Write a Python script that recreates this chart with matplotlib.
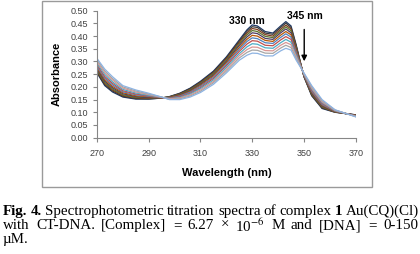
#!/usr/bin/env python3
"""UV-vis titration spectra of complex 1 with CT-DNA"""
import matplotlib
matplotlib.use('Agg')
import matplotlib.pyplot as plt
from matplotlib.patches import Rectangle

# wavelength grid (nm)
wavelength = [270, 273, 276, 280, 285, 290, 295, 298, 302, 306, 310, 315, 320, 325,
              328, 330, 332, 335, 338, 341, 343, 345, 347, 350, 353, 357, 362, 370]

# absorbance for each DNA addition (first = free complex)
spec_01 = [0.255, 0.205, 0.180, 0.160, 0.152, 0.152, 0.156, 0.162, 0.175, 0.195, 0.222, 0.262, 0.318, 0.385,
           0.425, 0.444, 0.440, 0.418, 0.412, 0.440, 0.457, 0.440, 0.365, 0.240, 0.165, 0.115, 0.100, 0.090]
spec_02 = [0.258, 0.209, 0.184, 0.163, 0.154, 0.153, 0.156, 0.161, 0.174, 0.193, 0.219, 0.259, 0.314, 0.380,
           0.419, 0.437, 0.434, 0.412, 0.407, 0.434, 0.451, 0.434, 0.361, 0.241, 0.167, 0.117, 0.101, 0.090]
spec_03 = [0.262, 0.214, 0.188, 0.166, 0.157, 0.155, 0.157, 0.160, 0.172, 0.190, 0.216, 0.255, 0.310, 0.375,
           0.412, 0.430, 0.426, 0.406, 0.400, 0.427, 0.443, 0.428, 0.357, 0.242, 0.170, 0.120, 0.101, 0.089]
spec_04 = [0.266, 0.218, 0.192, 0.169, 0.159, 0.157, 0.157, 0.160, 0.170, 0.188, 0.213, 0.252, 0.305, 0.369,
           0.405, 0.422, 0.418, 0.399, 0.394, 0.420, 0.436, 0.421, 0.353, 0.243, 0.173, 0.122, 0.102, 0.088]
spec_05 = [0.271, 0.223, 0.197, 0.173, 0.162, 0.158, 0.157, 0.159, 0.168, 0.185, 0.210, 0.247, 0.300, 0.363,
           0.397, 0.413, 0.410, 0.391, 0.387, 0.413, 0.428, 0.413, 0.348, 0.244, 0.176, 0.125, 0.103, 0.088]
spec_06 = [0.276, 0.229, 0.202, 0.177, 0.165, 0.161, 0.157, 0.158, 0.166, 0.182, 0.206, 0.243, 0.295, 0.355,
           0.388, 0.403, 0.400, 0.383, 0.379, 0.404, 0.418, 0.405, 0.343, 0.246, 0.180, 0.128, 0.104, 0.087]
spec_07 = [0.281, 0.235, 0.208, 0.181, 0.169, 0.163, 0.158, 0.156, 0.164, 0.179, 0.202, 0.238, 0.289, 0.348,
           0.379, 0.393, 0.390, 0.374, 0.371, 0.395, 0.409, 0.396, 0.337, 0.247, 0.183, 0.131, 0.105, 0.086]
spec_08 = [0.287, 0.241, 0.214, 0.185, 0.172, 0.165, 0.158, 0.155, 0.161, 0.175, 0.197, 0.233, 0.283, 0.340,
           0.369, 0.382, 0.380, 0.364, 0.362, 0.385, 0.398, 0.387, 0.331, 0.248, 0.187, 0.135, 0.106, 0.086]
spec_09 = [0.293, 0.249, 0.220, 0.190, 0.176, 0.167, 0.159, 0.154, 0.158, 0.172, 0.193, 0.227, 0.276, 0.331,
           0.358, 0.370, 0.368, 0.354, 0.352, 0.374, 0.387, 0.376, 0.325, 0.250, 0.192, 0.139, 0.107, 0.085]
spec_10 = [0.299, 0.256, 0.227, 0.195, 0.180, 0.170, 0.159, 0.153, 0.156, 0.168, 0.188, 0.221, 0.269, 0.323,
           0.347, 0.357, 0.356, 0.343, 0.342, 0.364, 0.375, 0.366, 0.318, 0.252, 0.196, 0.142, 0.108, 0.084]
spec_11 = [0.306, 0.263, 0.233, 0.200, 0.184, 0.172, 0.160, 0.151, 0.153, 0.164, 0.183, 0.216, 0.262, 0.314,
           0.336, 0.345, 0.344, 0.333, 0.332, 0.353, 0.364, 0.355, 0.312, 0.253, 0.201, 0.146, 0.109, 0.083]
spec_12 = [0.312, 0.270, 0.240, 0.205, 0.188, 0.175, 0.160, 0.150, 0.150, 0.160, 0.178, 0.210, 0.255, 0.305,
           0.325, 0.333, 0.332, 0.322, 0.322, 0.342, 0.352, 0.345, 0.305, 0.255, 0.205, 0.150, 0.110, 0.082]

spectra = [spec_01, spec_02, spec_03, spec_04, spec_05, spec_06,
           spec_07, spec_08, spec_09, spec_10, spec_11, spec_12]
colors = ['#1F3864', '#3B3B3B', '#7F3F1F', '#5F7530', '#4D3B62', '#B65708',
          '#4F81BD', '#C0504D', '#4BACC6', '#D99694', '#A6A6A6', '#8DB3E2']

xticks = [270, 290, 310, 330, 350, 370]
yticks = [0.00, 0.05, 0.10, 0.15, 0.20, 0.25, 0.30, 0.35, 0.40, 0.45, 0.50]

plt.rcParams['font.family'] = ['Liberation Sans', 'DejaVu Sans']
plt.rcParams['mathtext.fontset'] = 'stix'

W, H = 420, 254
fig = plt.figure(figsize=(W / 100, H / 100), dpi=100)
fig.patch.set_facecolor('white')

# frame around the chart
fig.patches.append(Rectangle((42 / W, 1 - 187 / H), 330 / W, 186 / H, transform=fig.transFigure,
                             fill=False, edgecolor='#9a9a9a', lw=1.0))

ax = fig.add_axes([97 / W, 1 - 137.7 / H, 258.7 / W, 127 / H])
for spec, c in zip(spectra, colors):
    ax.plot(wavelength, spec, color=c, lw=0.9)

ax.set_xlim(270, 370)
ax.set_ylim(0, 0.5)
ax.set_xticks(xticks)
ax.set_yticks(yticks)
ax.set_yticklabels([f'{v:.2f}' for v in yticks])
for s in ['top', 'right']:
    ax.spines[s].set_visible(False)
for s in ['left', 'bottom']:
    ax.spines[s].set_color('#868686')
    ax.spines[s].set_linewidth(0.8)
ax.tick_params(axis='both', direction='out', length=3, width=0.8, color='#868686',
               labelsize=6.5, labelcolor='#404040')
ax.tick_params(axis='x', pad=5)
ax.set_xlabel('Wavelength (nm)', fontsize=8, fontweight='bold', labelpad=7)
ax.set_ylabel('Absorbance', fontsize=8, fontweight='bold', labelpad=6)

ax.text(335, 0.458, '330 nm', fontsize=7.5, fontweight='bold', ha='right', va='center')
ax.text(350.5, 0.478, '345 nm', fontsize=7.5, fontweight='bold', ha='center', va='center')
ax.annotate('', xy=(350.1, 0.29), xytext=(350.1, 0.437),
            arrowprops=dict(arrowstyle='-|>', color='black', lw=1.0, mutation_scale=8))

# caption, justified word by word
renderer = fig.canvas.get_renderer()


def place_line(words, y, x0, x1, justify=True):
    items = []
    for txt, bold in words:
        t = fig.text(0, y, txt, fontsize=10.8, family=['Liberation Serif', 'DejaVu Serif'],
                     fontweight='bold' if bold else 'normal', va='center', ha='left')
        items.append(t)
    widths = [t.get_window_extent(renderer).width / W for t in items]
    if justify and len(items) > 1:
        gap = (x1 - x0 - sum(widths)) / (len(items) - 1)
    else:
        gap = 3.0 / W
    x = x0
    for t, w in zip(items, widths):
        t.set_x(x)
        x += w + gap


line1 = [('Fig.', True), ('4.', True), ('Spectrophotometric', False), ('titration', False),
         ('spectra', False), ('of', False), ('complex', False), ('1', True), ('Au(CQ)(Cl)', False)]
line2 = [('with', False), ('CT-DNA.', False), ('[Complex]', False), ('=', False), ('6.27', False),
         ('\u00d7', False), ('10$^{\u22126}$', False), ('M', False), ('and', False), ('[DNA]', False),
         ('=', False), ('0-150', False)]
place_line(line1, 1 - 211.7 / H, 3 / W, 419 / W)
place_line(line2, 1 - 225.7 / H, 3 / W, 418 / W)
place_line([('\u00b5M.', False)], 1 - 239.3 / H, 3 / W, 418 / W, justify=False)

fig.savefig('out.png', dpi=100, facecolor='white')
plt.close(fig)
